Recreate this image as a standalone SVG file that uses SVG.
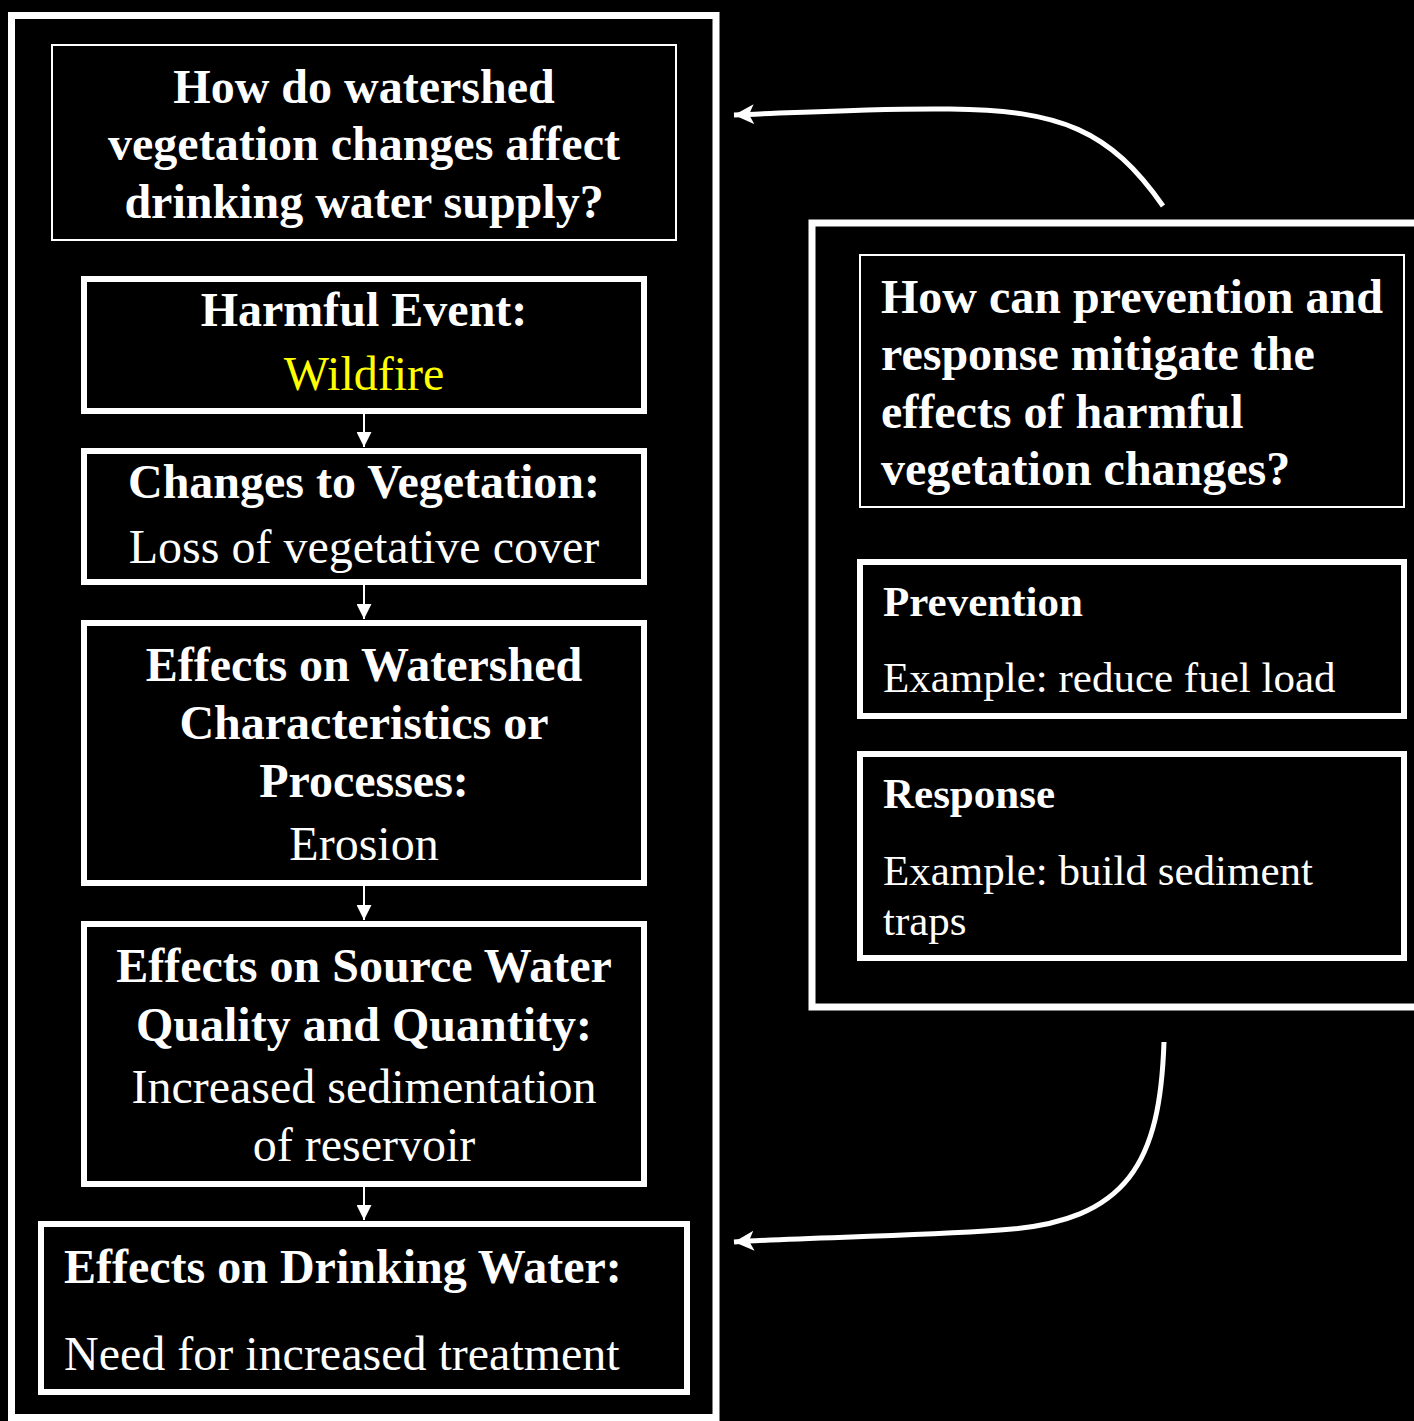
<svg xmlns="http://www.w3.org/2000/svg" width="1414" height="1421" viewBox="0 0 1414 1421">
<defs>
<style>
.bg{fill:#000}
.thick{fill:none;stroke:#fff;stroke-width:6}
.outer{fill:none;stroke:#fff;stroke-width:7}
.thin{fill:none;stroke:#fff;stroke-width:2}
text{font-family:"Liberation Serif","Times New Roman",serif;fill:#fff}
.b{font-weight:bold;font-size:48px}
.r{font-size:48px}
.bs{font-weight:bold;font-size:43px}
.rs{font-size:43px}
.c{text-anchor:middle}
.conn{fill:none;stroke:#fff;stroke-width:2}
.curve{fill:none;stroke:#fff;stroke-width:5}
</style>
<marker id="ah" markerWidth="16" markerHeight="15" refX="15" refY="7.5" orient="auto" markerUnits="userSpaceOnUse">
<path d="M0,0 L15,7.5 L0,15 Z" fill="#fff"/>
</marker>
<marker id="bh" markerWidth="22" markerHeight="22" refX="20" refY="10" orient="auto" markerUnits="userSpaceOnUse">
<path d="M0,0 L20,10 L0,20 L5,10 Z" fill="#fff"/>
</marker>
</defs>
<rect class="bg" x="0" y="0" width="1414" height="1421"/>

<g id="left-panel">
<rect class="outer" x="11.5" y="15.5" width="704.5" height="1402"/>
</g>
<g id="right-panel">
<rect class="outer" x="812" y="223" width="620" height="784"/>
</g>

<g id="q-left">
<rect class="thin" x="52" y="45" width="624" height="195"/>
<text class="b c" x="364" y="103">How do watershed</text>
<text class="b c" x="364" y="160">vegetation changes affect</text>
<text class="b c" x="364" y="218">drinking water supply?</text>
</g>

<g id="harmful-event">
<rect class="thick" x="84" y="279" width="560" height="132"/>
<text class="b c" x="364" y="326">Harmful Event:</text>
<text class="r c" x="364" y="390" style="fill:#ffff00">Wildfire</text>
</g>

<g id="vegetation">
<rect class="thick" x="84" y="451" width="560" height="131"/>
<text class="b c" x="364" y="498">Changes to Vegetation:</text>
<text class="r c" x="364" y="563">Loss of vegetative cover</text>
</g>

<g id="watershed">
<rect class="thick" x="84" y="623" width="560" height="260"/>
<text class="b c" x="364" y="681">Effects on Watershed</text>
<text class="b c" x="364" y="739">Characteristics or</text>
<text class="b c" x="364" y="797">Processes:</text>
<text class="r c" x="364" y="860">Erosion</text>
</g>

<g id="source-water">
<rect class="thick" x="84" y="924" width="560" height="260"/>
<text class="b c" x="364" y="982">Effects on Source Water</text>
<text class="b c" x="364" y="1041">Quality and Quantity:</text>
<text class="r c" x="364" y="1103">Increased sedimentation</text>
<text class="r c" x="364" y="1161">of reservoir</text>
</g>

<g id="drinking-water">
<rect class="thick" x="41" y="1224" width="646" height="168"/>
<text class="b" x="64" y="1283">Effects on Drinking Water:</text>
<text class="r" x="64" y="1370">Need for increased treatment</text>
</g>

<g id="q-right">
<rect class="thin" x="860" y="255" width="544" height="252"/>
<text class="b" x="881" y="313">How can prevention and</text>
<text class="b" x="881" y="370">response mitigate the</text>
<text class="b" x="881" y="428">effects of harmful</text>
<text class="b" x="881" y="485">vegetation changes?</text>
</g>

<g id="prevention">
<rect class="thick" x="860" y="562" width="544" height="154"/>
<text class="bs" x="883" y="616">Prevention</text>
<text class="rs" x="883" y="692">Example: reduce fuel load</text>
</g>

<g id="response">
<rect class="thick" x="860" y="754" width="544" height="204"/>
<text class="bs" x="883" y="808">Response</text>
<text class="rs" x="883" y="885">Example: build sediment</text>
<text class="rs" x="883" y="935">traps</text>
</g>

<g id="connectors">
<line class="conn" x1="364" y1="414" x2="364" y2="447" marker-end="url(#ah)"/>
<line class="conn" x1="364" y1="585" x2="364" y2="619" marker-end="url(#ah)"/>
<line class="conn" x1="364" y1="886" x2="364" y2="920" marker-end="url(#ah)"/>
<line class="conn" x1="364" y1="1187" x2="364" y2="1220" marker-end="url(#ah)"/>
<path class="curve" d="M1163,206 C1110,130 1060,110 950,109 C880,108 810,112 734,115" marker-end="url(#bh)"/>
<path class="curve" d="M1164,1042 C1160,1160 1130,1222 1000,1230 C900,1237 810,1237 734,1242" marker-end="url(#bh)"/>
</g>
</svg>
